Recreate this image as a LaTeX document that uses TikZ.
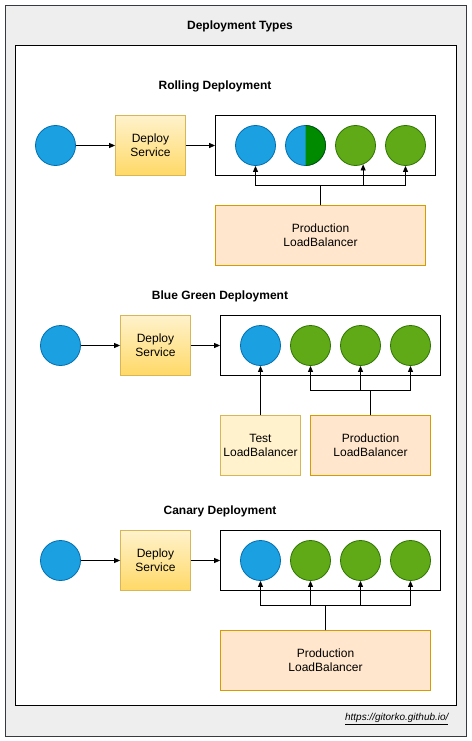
\documentclass[tikz,border=0pt]{standalone}
\usepackage{fontspec}
\setmainfont{Liberation Sans}
\usetikzlibrary{arrows.meta,calc}
\definecolor{outerfill}{HTML}{EEEEEE}
\definecolor{outerline}{HTML}{36393D}
\definecolor{bluefill}{HTML}{1BA1E2}
\definecolor{blueline}{HTML}{006EAF}
\definecolor{greenfill}{HTML}{60A917}
\definecolor{greenline}{HTML}{2D7600}
\definecolor{dkgreenfill}{HTML}{008A00}
\definecolor{dkgreenline}{HTML}{005700}
\definecolor{deploytop}{HTML}{FFF2CC}
\definecolor{deploybot}{HTML}{FFD966}
\definecolor{deployline}{HTML}{D6B656}
\definecolor{prodfill}{HTML}{FFE6CC}
\definecolor{prodline}{HTML}{D79B00}
\begin{document}
\begin{tikzpicture}[x=1pt,y=-1pt,
  every node/.style={font=\fontsize{12}{14}\selectfont, align=center},
  bluec/.style={circle, draw=blueline, fill=bluefill, minimum size=40pt, inner sep=0pt, line width=0.8pt},
  greenc/.style={circle, draw=greenline, fill=greenfill, minimum size=40pt, inner sep=0pt, line width=0.8pt},
  deploybox/.style={draw=deployline, top color=deploytop, bottom color=deploybot, minimum width=70pt, minimum height=60pt, inner sep=0pt, line width=0.8pt},
  container/.style={draw=black, fill=white, minimum width=220pt, minimum height=60pt, inner sep=0pt, line width=0.8pt},
  prodlb/.style={draw=prodline, fill=prodfill, minimum height=60pt, inner sep=0pt, line width=0.8pt},
  testlb/.style={draw=deployline, fill=deploytop, minimum height=60pt, inner sep=0pt, line width=0.8pt},
  titletext/.style={font=\fontsize{12}{14}\selectfont\bfseries},
  arr/.style={draw=black, line width=0.8pt, -{Triangle[length=6pt,width=5pt]}},
  conn/.style={draw=black, line width=0.8pt}
]
\useasboundingbox (0,0) rectangle (471,741);
\node[draw=outerline, fill=outerfill, minimum width=461pt, minimum height=731pt, inner sep=0pt, line width=0.8pt, anchor=north west] (outer) at (5,5) {};
\node[draw=black, fill=white, minimum width=441pt, minimum height=660pt, inner sep=0pt, line width=0.8pt, anchor=north west] (inner) at (15,45) {};
\node[titletext] (title) at (240,26) {Deployment Types};
\node[anchor=east, font=\fontsize{10}{12}\selectfont\itshape] (footer) at (452,719) {\underline{https://gitorko.github.io/}};

% Rolling
\node[titletext] (t1) at (215,86) {Rolling Deployment};
\node[bluec] (b1) at (55.5,145.5) {};
\node[deploybox] (d1) at (150.5,145.5) {Deploy\\Service};
\node[container] (k1) at (325.5,145.5) {};
\node[bluec] (r1) at (255.5,145.5) {};
\node[bluec] (r2) at (305.5,145.5) {};
\begin{scope}
\clip (305.5,120) rectangle (330,171);
\node[circle, draw=dkgreenline, fill=dkgreenfill, minimum size=40pt, inner sep=0pt, line width=0.8pt] (r2g) at (305.5,145.5) {};
\end{scope}
\node[greenc] (r3) at (355.5,145.5) {};
\node[greenc] (r4) at (405.5,145.5) {};
\node[prodlb, minimum width=210pt] (lb1) at (320.5,235.5) {Production\\LoadBalancer};
\draw[arr] (b1) -- (d1);
\draw[arr] (d1) -- (k1);
\draw[arr] (lb1.north) -- ++(0,-20) -| (r1.south);
\draw[arr] (lb1.north) -- ++(0,-20) -| (r3.-68);
\draw[arr] (lb1.north) -- ++(0,-20) -| (r4.south);

% Blue Green
\node[titletext] (t2) at (220,296) {Blue Green Deployment};
\node[bluec] (b2) at (60.5,345.5) {};
\node[deploybox] (d2) at (155.5,345.5) {Deploy\\Service};
\node[container] (k2) at (330.5,345.5) {};
\node[bluec] (g1) at (260.5,345.5) {};
\node[greenc] (g2) at (310.5,345.5) {};
\node[greenc] (g3) at (360.5,345.5) {};
\node[greenc] (g4) at (410.5,345.5) {};
\node[testlb, minimum width=80pt] (tlb) at (260.5,445.5) {Test\\LoadBalancer};
\node[prodlb, minimum width=120pt] (plb) at (370.5,445.5) {Production\\LoadBalancer};
\draw[arr] (b2) -- (d2);
\draw[arr] (d2) -- (k2);
\draw[arr] (tlb) -- (g1);
\draw[arr] (plb.north) -- ++(0,-25) -| (g2.south);
\draw[arr] (plb.north) -- ++(0,-25) -| (g3.south);
\draw[arr] (plb.north) -- ++(0,-25) -| (g4.south);

% Canary
\node[titletext] (t3) at (220,511) {Canary Deployment};
\node[bluec] (b3) at (60.5,560.5) {};
\node[deploybox] (d3) at (155.5,560.5) {Deploy\\Service};
\node[container] (k3) at (330.5,560.5) {};
\node[bluec] (c1) at (260.5,560.5) {};
\node[greenc] (c2) at (310.5,560.5) {};
\node[greenc] (c3) at (360.5,560.5) {};
\node[greenc] (c4) at (410.5,560.5) {};
\node[prodlb, minimum width=210pt] (lb3) at (325.5,660.5) {Production\\LoadBalancer};
\draw[arr] (b3) -- (d3);
\draw[arr] (d3) -- (k3);
\draw[arr] (lb3.north) -- ++(0,-25) -| (c1.south);
\draw[arr] (lb3.north) -- ++(0,-25) -| (c2.south);
\draw[arr] (lb3.north) -- ++(0,-25) -| (c3.south);
\draw[arr] (lb3.north) -- ++(0,-25) -| (c4.south);
\end{tikzpicture}
\end{document}
